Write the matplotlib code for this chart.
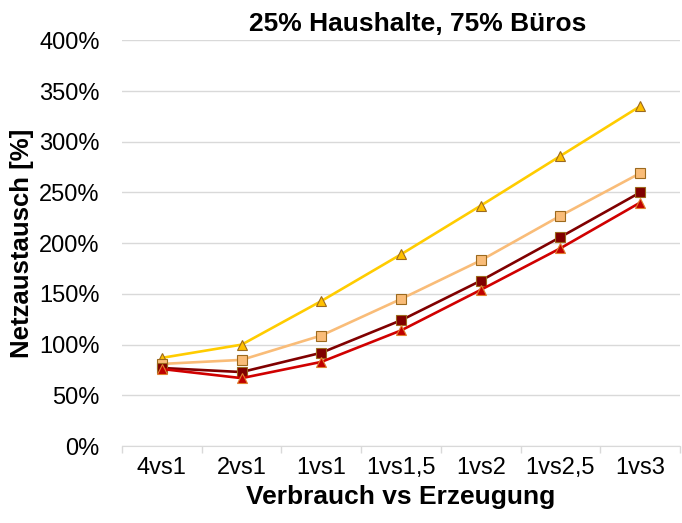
import matplotlib.pyplot as plt
import numpy as np

plt.rcParams['font.family'] = ['Liberation Sans', 'DejaVu Sans']

## data (Netzaustausch in %)
categories = ['4vs1', '2vs1', '1vs1', '1vs1,5', '1vs2', '1vs2,5', '1vs3']
yellow_tri = [87, 100, 143, 189, 237, 286, 335]
orange_sq = [81, 85, 109, 145, 183, 227, 269]
darkred_sq = [77, 73, 92, 124, 163, 206, 250]
red_tri = [76, 67, 83, 114, 154, 195, 240]

fig = plt.figure(figsize=(6.82, 5.23), dpi=100)
ax = fig.add_axes([0.179, 0.147, 0.818, 0.776])

x = np.arange(len(categories))

ax.plot(x, yellow_tri, '-^', color='#FFCC00', lw=1.9, ms=7.5,
        markerfacecolor='#FFC000', markeredgecolor='#9C6A1E', mew=0.8)
ax.plot(x, orange_sq, '-s', color='#F9BC78', lw=1.9, ms=7.5,
        markerfacecolor='#F9BC78', markeredgecolor='#9C6A1E', mew=0.8)
ax.plot(x, darkred_sq, '-s', color='#800000', lw=1.9, ms=7.5,
        markerfacecolor='#800000', markeredgecolor='#9C6A1E', mew=0.8)
ax.plot(x, red_tri, '-^', color='#D00000', lw=1.9, ms=7.5,
        markerfacecolor='#C00000', markeredgecolor='#E08030', mew=0.8)

ax.set_xlim(-0.5, len(categories) - 0.5)
ax.set_ylim(0, 400)
ax.set_yticks(np.arange(0, 401, 50))
ax.set_yticklabels(['%d%%' % v for v in range(0, 401, 50)])
ax.set_xticks(x)
ax.set_xticklabels(categories)
ax.set_xticks(np.arange(-0.5, len(categories)), minor=True)

ax.tick_params(axis='y', length=0, labelsize=17, colors='#000000', pad=16)
ax.tick_params(axis='x', which='major', length=0, labelsize=17, pad=8)
ax.tick_params(axis='x', which='minor', length=5, color='#D9D9D9', width=1)

ax.grid(axis='y', color='#D9D9D9', lw=1)
ax.set_axisbelow(True)
for s in ['top', 'right', 'left']:
    ax.spines[s].set_visible(False)
ax.spines['bottom'].set_color('#D9D9D9')

ax.set_title('25% Haushalte, 75% Büros', fontsize=19, fontweight='bold', pad=7,
             x=0.53)
ax.set_xlabel('Verbrauch vs Erzeugung', fontsize=19, fontweight='bold', labelpad=4)
ax.set_ylabel('Netzaustausch [%]', fontsize=18.5, fontweight='bold', labelpad=4)

fig.savefig('out.png', dpi=100)
